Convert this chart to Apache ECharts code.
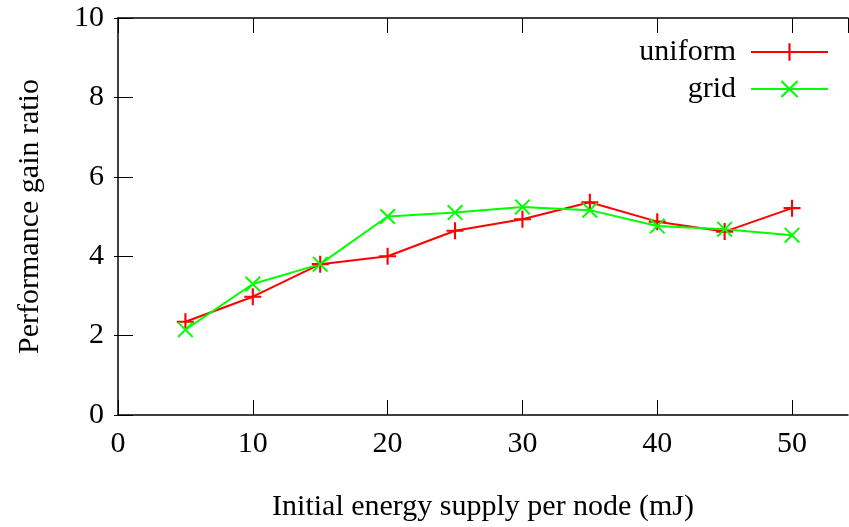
<!DOCTYPE html>
<html>
<head>
<meta charset="utf-8">
<script src="https://cdn.jsdelivr.net/npm/echarts@6/dist/echarts.min.js"></script>
<style>
  html, body { margin: 0; padding: 0; background: #fff; }
  #chart { width: 849px; height: 527px; }
</style>
</head>
<body>
<div id="chart"></div>
<script>
// 数据
const energy = [5, 10, 15, 20, 25, 30, 35, 40, 45, 50]
const uniformRatio = [2.35, 2.98, 3.8, 4.0, 4.64, 4.93, 5.36, 4.87, 4.62, 5.21]
const gridRatio = [2.15, 3.3, 3.8, 5.0, 5.1, 5.24, 5.16, 4.76, 4.68, 4.53]

const font = 'Liberation Serif'
const fontSize = 30
const plusIcon = 'path://M0,7 L16,7 L16,9 L0,9 Z M7,0 L9,0 L9,16 L7,16 Z'
const crossIcon = 'path://M0,1.4 L1.4,0 L16,14.6 L14.6,16 Z M14.6,0 L16,1.4 L1.4,16 L0,14.6 Z'

const pair = (xs, ys) => xs.map((x, i) => [x, ys[i]])

const myChart = echarts.init(document.getElementById('chart'), null, { renderer: 'canvas' })

const axisLine = { show: true, onZero: false, lineStyle: { color: '#000', width: 1.5 } }
const tick = { show: true, inside: true, length: 15, lineStyle: { color: '#000', width: 1 } }

const option = {
  animation: false,
  backgroundColor: '#fff',
  textStyle: { fontFamily: font },
  // 原图右边框被裁掉, 画到画面边缘为止
  grid: { left: 118, top: 18, right: 1, bottom: 112 },
  legend: {
    orient: 'vertical',
    align: 'right',
    right: 15,
    top: 32,
    itemWidth: 77,
    itemHeight: 22,
    itemGap: 7,
    textStyle: { fontFamily: font, fontSize: fontSize, color: '#000', padding: [0, 10, 0, 0] },
    data: ['uniform', 'grid']
  },
  xAxis: [
    {
      type: 'value',
      min: 0,
      max: 54.15,
      interval: 10,
      name: 'Initial energy supply per node (mJ)',
      nameLocation: 'middle',
      nameGap: 77,
      nameTextStyle: { fontFamily: font, fontSize: fontSize, color: '#000' },
      axisLine: axisLine,
      axisTick: tick,
      splitLine: { show: false },
      axisLabel: { fontFamily: font, fontSize: fontSize, color: '#000', margin: 14, showMaxLabel: false }
    },
    {
      type: 'value',
      position: 'top',
      min: 0,
      max: 54.15,
      interval: 10,
      axisLine: axisLine,
      axisTick: tick,
      splitLine: { show: false },
      axisLabel: { show: false }
    }
  ],
  yAxis: [
    {
      type: 'value',
      min: 0,
      max: 10,
      interval: 2,
      name: 'Performance gain ratio',
      nameLocation: 'middle',
      nameGap: 73,
      nameRotate: 90,
      nameTextStyle: { fontFamily: font, fontSize: fontSize, color: '#000' },
      axisLine: axisLine,
      axisTick: tick,
      splitLine: { show: false },
      axisLabel: { fontFamily: font, fontSize: fontSize, color: '#000', margin: 14 }
    },
    {
      type: 'value',
      position: 'right',
      min: 0,
      max: 10,
      interval: 2,
      axisLine: { show: false },
      axisTick: { show: true, inside: true, length: 4, lineStyle: { color: '#000', width: 1 } },
      splitLine: { show: false },
      axisLabel: { show: false }
    }
  ],
  series: [
    {
      name: 'uniform',
      type: 'line',
      data: pair(energy, uniformRatio),
      symbol: plusIcon,
      symbolSize: 17,
      lineStyle: { color: '#ff0000', width: 2 },
      itemStyle: { color: '#ff0000' }
    },
    {
      name: 'grid',
      type: 'line',
      data: pair(energy, gridRatio),
      symbol: crossIcon,
      symbolSize: 16,
      lineStyle: { color: '#00ff00', width: 2 },
      itemStyle: { color: '#00ff00' }
    }
  ]
}
myChart.setOption(option)
</script>
</body>
</html>
